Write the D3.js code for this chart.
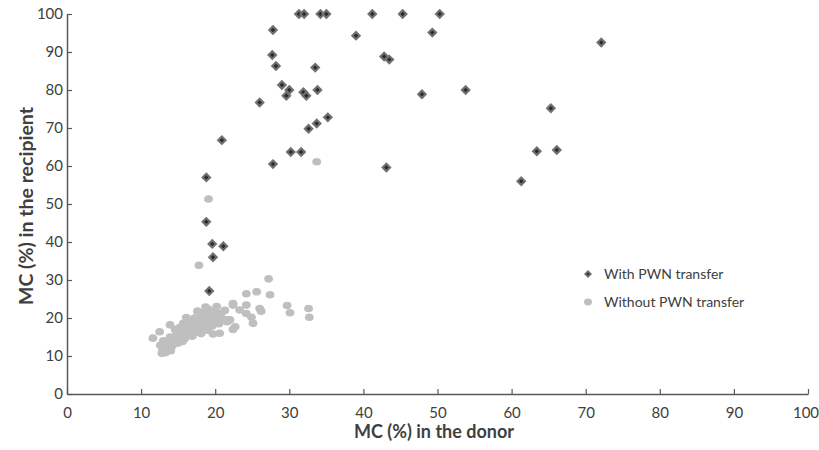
<!DOCTYPE html>
<html><head><meta charset="utf-8">
<script src="https://cdn.jsdelivr.net/npm/d3@7"></script>
<style>body{margin:0;background:#fff}svg{display:block}text{font-family:Lato,"Open Sans",sans-serif;fill:#404040}</style>
</head><body><svg id="c" width="819" height="450"></svg>
<script>
const withPWN = [
[31.3,100],[32.0,100],[34.2,100],[35.0,100],[41.2,100],[45.3,100],[50.3,100],
[27.8,95.8],[39.0,94.3],[49.3,95.1],[72.1,92.5],
[27.7,89.2],[42.8,88.8],[43.5,88.0],[28.2,86.3],[33.5,85.9],
[29.0,81.3],[30.0,80.0],[29.6,78.5],[31.9,79.4],[32.3,78.5],[33.8,80.0],[47.9,78.9],[53.8,80.0],
[26.0,76.7],[65.3,75.2],[35.2,72.8],[33.7,71.2],[32.6,69.8],[20.9,66.8],
[30.2,63.7],[31.6,63.7],[63.4,63.9],[66.1,64.2],[27.8,60.5],[43.1,59.6],[18.8,57.0],[61.3,56.0],
[18.8,45.3],[19.6,39.5],[21.1,38.9],[19.7,36.0],[19.2,27.1],[18.5,21.4]
];
const withoutPWN = [
[33.7,61.1],[19.1,51.3],[17.8,33.9],[27.2,30.3],[24.2,26.4],[25.6,26.9],[27.4,26.1],[22.4,23.8],
[24.2,23.4],[23.3,22.1],[26.0,22.5],[26.2,21.8],[29.7,23.3],[30.1,21.4],[32.6,22.5],[32.7,20.2],
[24.2,21.2],[24.9,20.2],[25.1,18.6],[22.4,17.0],[21.6,19.5],[19.7,15.8],[21.6,19.0],
[11.6,14.7],[12.5,16.4],[12.8,10.7],[13.2,12.0],[12.6,12.8],[13.0,14.0],[13.5,13.2],[13.9,15.0],
[13.9,18.2],[14.2,12.6],[14.5,14.3],[14.8,16.1],[15.0,13.4],[15.2,17.5],[15.4,15.2],[15.7,18.6],
[15.9,14.6],[16.0,16.5],[16.3,17.8],[16.5,19.2],[16.6,15.6],[16.8,17.0],[17.0,18.4],[17.2,20.0],
[17.3,16.1],[17.5,19.1],[17.7,17.4],[17.9,20.6],[18.0,18.2],[18.2,16.6],[18.4,21.5],[18.5,19.4],
[18.7,17.6],[18.9,20.3],[19.1,22.3],[19.2,18.6],[19.4,20.9],[19.6,17.9],[19.8,19.6],[20.0,21.8],
[20.2,23.0],[20.3,20.4],[20.5,18.5],[20.6,16.0],[20.8,21.2],[21.0,19.6],[21.3,22.0],[22.0,19.5],
[22.4,23.4],[22.7,17.7],[14.0,11.4],[13.3,10.9],[12.9,11.5],[15.6,13.8],[16.9,15.2],[18.1,15.9],
[19.0,16.8],[14.6,17.0],[16.1,20.1],[17.6,21.8],[18.7,22.9]
];
const xTicks = [0,10,20,30,40,50,60,70,80,90,100];
const yTicks = [0,10,20,30,40,50,60,70,80,90,100];
const seriesNames = ["With PWN transfer","Without PWN transfer"];
const xTitle = "MC (%) in the donor";
const yTitle = "MC (%) in the recipient";

const svg = d3.select("#c");
const x = d3.scaleLinear().domain([0,100]).range([67,808]);
const y = d3.scaleLinear().domain([0,100]).range([394,14]);
const axisColor = "#595959";

const gx = svg.append("g").attr("transform","translate(0,394)")
  .call(d3.axisBottom(x).tickValues(xTicks).tickSizeInner(-5).tickSizeOuter(0).tickPadding(13));
const gy = svg.append("g").attr("transform","translate(67,0)")
  .call(d3.axisLeft(y).tickValues(yTicks).tickSizeInner(-5).tickSizeOuter(0).tickPadding(4));
[gx,gy].forEach(g=>{
  g.select(".domain").attr("stroke",axisColor).attr("stroke-width",1.5);
  g.selectAll(".tick line").attr("stroke",axisColor).attr("stroke-width",1.2);
  g.selectAll(".tick text").attr("fill","#404040").style("font-size","15px").style("font-family","Lato,'Open Sans',sans-serif");
});
gx.selectAll(".tick text").filter(d=>d===100).attr("dx",-2.5);

const diamond = (s)=>`M0,${-s}L${s},0L0,${s}L${-s},0Z`;
const dg = svg.append("g");
withPWN.forEach(d=>{
  const g = dg.append("g").attr("transform",`translate(${x(d[0])},${y(d[1])})`);
  g.append("path").attr("d",diamond(5.2)).attr("fill","#707070");
  g.append("path").attr("d",diamond(2.2)).attr("fill","#2a2a2a");
});
svg.append("g").selectAll("ellipse").data(withoutPWN).join("ellipse")
  .attr("cx",d=>x(d[0])).attr("cy",d=>y(d[1])).attr("rx",4.4).attr("ry",3.8).attr("fill","#bfbfbf");

// legend
const lg = svg.append("g");
const l1 = lg.append("g").attr("transform","translate(588,274)");
l1.append("path").attr("d",diamond(4)).attr("fill","#707070");
l1.append("path").attr("d",diamond(1.6)).attr("fill","#2a2a2a");
lg.append("ellipse").attr("cx",588).attr("cy",302).attr("rx",4).attr("ry",3.4).attr("fill","#bfbfbf");
lg.append("text").attr("x",604).attr("y",279).style("font-size","14px").text(seriesNames[0]);
lg.append("text").attr("x",604).attr("y",307).style("font-size","14px").text(seriesNames[1]);

svg.append("text").attr("x",434).attr("y",438).attr("text-anchor","middle")
  .style("font-size","18px").style("font-weight","bold").text(xTitle);
svg.append("text").attr("transform","translate(33,206) rotate(-90)").attr("text-anchor","middle")
  .style("font-size","19.5px").style("font-weight","bold").text(yTitle);
</script></body></html>
